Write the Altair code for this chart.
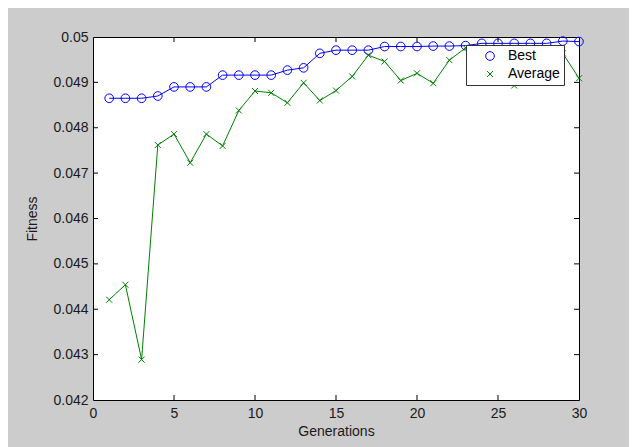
import altair as alt
import pandas as pd

# ---- data ----
generations = list(range(1, 31))
best = [0.04865, 0.04865, 0.04865, 0.04870, 0.04890, 0.04890, 0.04890, 0.04916,
        0.04916, 0.04916, 0.04916, 0.04927, 0.04932, 0.04964, 0.04971, 0.04971,
        0.04971, 0.04979, 0.04979, 0.04979, 0.04980, 0.04980, 0.04981, 0.04986,
        0.04986, 0.04986, 0.04986, 0.04986, 0.04991, 0.04990]
average = [0.04421, 0.04454, 0.04289, 0.04762, 0.04786, 0.04723, 0.04786, 0.04760,
           0.04838, 0.04881, 0.04877, 0.04855, 0.04899, 0.04860, 0.04882, 0.04913,
           0.04960, 0.04946, 0.04904, 0.04920, 0.04898, 0.04949, 0.04976, 0.04970,
           0.04955, 0.04893, 0.04945, 0.04962, 0.04964, 0.04909]
series_names = ["Best", "Average"]
series_colors = ["#0000ff", "#008000"]
x_ticks = [0, 5, 10, 15, 20, 25, 30]
y_ticks = [0.042, 0.043, 0.044, 0.045, 0.046, 0.047, 0.048, 0.049, 0.05]

W, H = 486, 363
FONT = "Liberation Sans"

rows = []
for name, col, vals in zip(series_names, series_colors, [best, average]):
    for g, v in zip(generations, vals):
        rows.append({"gen": g, "series": name, "fitness": v, "c": col})
df = pd.DataFrame(rows)

xscale = alt.Scale(domain=[0, 30], nice=False, zero=False)
yscale = alt.Scale(domain=[0.042, 0.05], nice=False, zero=False)
xaxis = alt.Axis(values=x_ticks, title="Generations", labelPadding=6, titlePadding=4)
yaxis = alt.Axis(values=y_ticks, format=".3~f", title="Fitness", labelPadding=5,
                 titlePadding=13)

xpath = "M-1,-1L1,1M-1,1L1,-1"
leg = alt.Legend(title=None, orient="none", legendX=373, legendY=8, padding=4,
                 fillColor="white", strokeColor="#333333", labelFont=FONT,
                 labelFontSize=14, labelColor="#000000", symbolStrokeWidth=1,
                 symbolOffset=13, labelOffset=11, rowPadding=4)

lines = alt.Chart(df).mark_line(strokeWidth=1).encode(
    x=alt.X("gen:Q", scale=xscale, axis=xaxis),
    y=alt.Y("fitness:Q", scale=yscale, axis=yaxis),
    stroke=alt.Stroke("c:N", scale=None),
    detail="series:N",
    order="gen:Q",
)

points = alt.Chart(df).mark_point(filled=False, strokeWidth=1, opacity=1).encode(
    x=alt.X("gen:Q", scale=xscale, axis=xaxis),
    y=alt.Y("fitness:Q", scale=yscale, axis=yaxis),
    color=alt.Color("series:N", scale=alt.Scale(domain=series_names, range=series_colors), legend=leg),
    shape=alt.Shape("series:N", scale=alt.Scale(domain=series_names, range=["circle", xpath]), legend=leg),
    size=alt.Size("series:N", scale=alt.Scale(domain=series_names, range=[75, 36]), legend=leg),
)

xt = pd.DataFrame({"v": x_ticks[1:-1]})
yt = pd.DataFrame({"v": y_ticks[1:-1]})
tk = dict(color="#000000", strokeWidth=1)
xb = alt.Chart(xt).mark_rule(**tk).encode(x=alt.X("v:Q", scale=xscale, axis=xaxis),
                                          y=alt.value(H - 5), y2=alt.value(H))
xtop = alt.Chart(xt).mark_rule(**tk).encode(x=alt.X("v:Q", scale=xscale, axis=xaxis),
                                            y=alt.value(0), y2=alt.value(5))
yl = alt.Chart(yt).mark_rule(**tk).encode(y=alt.Y("v:Q", scale=yscale, axis=yaxis),
                                          x=alt.value(0), x2=alt.value(5))
yr = alt.Chart(yt).mark_rule(**tk).encode(y=alt.Y("v:Q", scale=yscale, axis=yaxis),
                                          x=alt.value(W - 5), x2=alt.value(W))

chart = alt.layer(lines, points, xb, xtop, yl, yr).properties(
    width=W, height=H,
    autosize=alt.AutoSizeParams(type="none"),
    padding={"left": 85, "top": 29, "right": 50, "bottom": 47},
    background="#cccccc",
).configure_view(
    stroke="#000000", strokeWidth=1, fill="white"
).configure_axis(
    domain=False, ticks=False, grid=False, labelFlush=False, labelOverlap=False,
    labelFont=FONT, labelFontSize=14, labelColor="#1a1a1a",
    titleFont=FONT, titleFontSize=14, titleFontWeight="normal", titleColor="#1a1a1a",
)

chart.save("out.html", embed_options={"renderer": "svg", "actions": False})
